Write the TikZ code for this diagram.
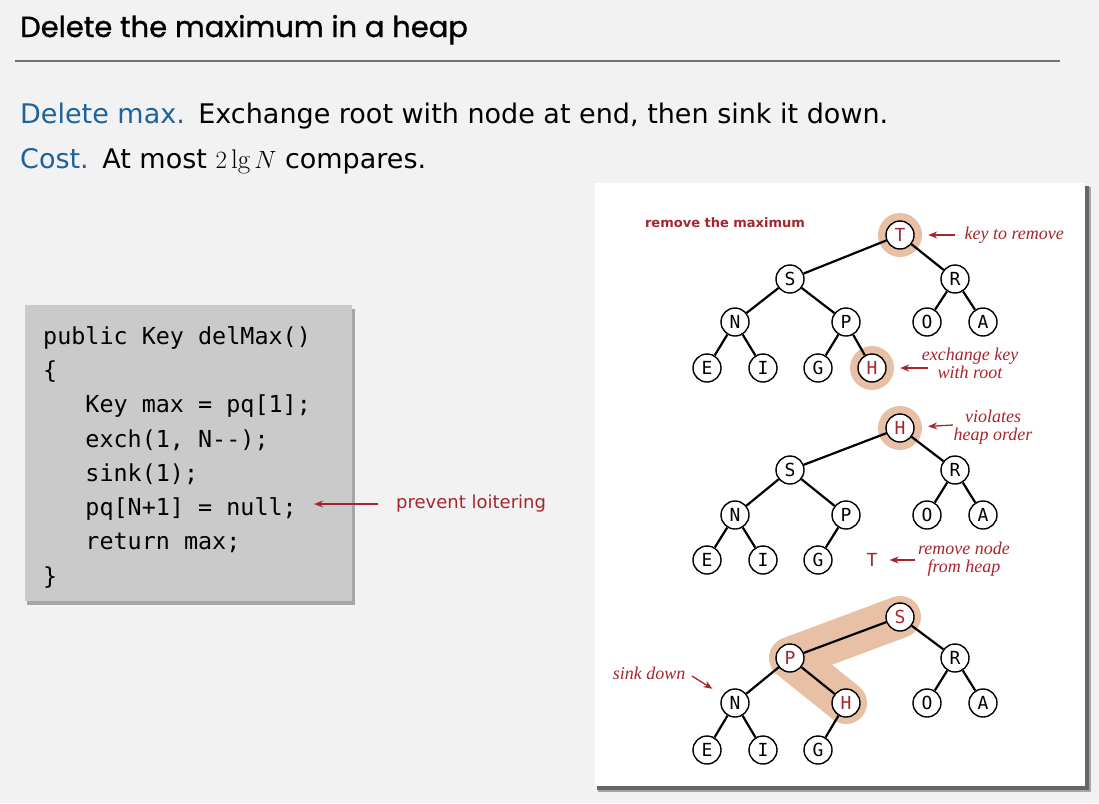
\documentclass[tikz,border=0pt]{standalone}
\usepackage{fontspec}
\usepackage{tikz}
\usepackage{xcolor}
\usetikzlibrary{arrows.meta}
\newfontfamily\titlefont[FakeBold=1]{Poppins}
\newfontfamily\bodyfont{DejaVu Sans}
\newfontfamily\codefont{DejaVu Sans Mono}
\newfontfamily\notefont{Liberation Serif}
\definecolor{pagebg}{RGB}{242,242,242}
\definecolor{hblue}{RGB}{28,98,158}
\definecolor{hred}{RGB}{166,38,46}
\definecolor{peach}{RGB}{232,192,165}
\definecolor{codebg}{RGB}{202,202,202}
\pgfdeclarelayer{back}\pgfdeclarelayer{band}
\pgfsetlayers{back,band,main}

\begin{document}
\begin{tikzpicture}[x=1pt,y=-1pt,
  hnode/.style={circle,draw,line width=1.4pt,fill=white,minimum size=28pt,inner sep=0pt,font=\codefont\fontsize{18}{18}\selectfont},
  hot/.style={text=hred},
  halo/.style={circle,fill=peach,minimum size=44pt,inner sep=0pt},
  link/.style={line width=2.2pt},
  note/.style={text=hred,font=\notefont\itshape\fontsize{18}{18}\selectfont,align=center},
  pointer/.style={hred,line width=1.3pt,-{Stealth[length=9pt,width=7pt]}}]
  \useasboundingbox (0,0) rectangle (1099,803);
  \begin{pgfonlayer}{back}
    \fill[pagebg] (0,0) rectangle (1099,803);
    \fill[black!35] (27,309) rectangle (355,605); \fill[codebg] (25,305) rectangle (352,601);
    \fill[black!35] (598,187) rectangle (1091,792); \fill[black!60] (597,186) rectangle (1089,790); \fill[white] (595,183) rectangle (1085,786);
  \end{pgfonlayer}
  \node[anchor=base west,inner sep=0pt,font=\titlefont\fontsize{29}{32}\selectfont] (title) at (20,37) {Delete the maximum in a heap};
  \draw[black!55,line width=1.5pt] (15,61) -- (1060,61);
  \node[anchor=base west,inner sep=0pt,font=\bodyfont\fontsize{27}{30}\selectfont] (rule) at (20,123) {\textcolor{hblue}{Delete max.}\hspace{0.5em}Exchange root with node at end, then sink it down.};
  \node[anchor=base west,inner sep=0pt,font=\bodyfont\fontsize{27}{30}\selectfont] (cost) at (20,168) {\textcolor{hblue}{Cost.}\hspace{0.5em}At most $2\lg N$ compares.};

  \node[anchor=north west,inner sep=0pt,align=left,font=\codefont\fontsize{23.4}{34.3}\selectfont] (code) at (43,326) {public Key delMax()\\ \{\\ \phantom{123}Key max = pq[1];\\ \phantom{123}exch(1, N-{}-);\\ \phantom{123}sink(1);\\ \phantom{123}pq[N+1] = null;\\ \phantom{123}return max;\\ \}};
  \node[anchor=west,inner sep=0pt,text=hred,font=\bodyfont\fontsize{18}{20}\selectfont] (loiter) at (396,504) {prevent loitering};
  \coordinate (loitTail) at (378,504); \draw[pointer] (loitTail) -- ([xshift=3pt]loitTail -| code.east);

  \node[anchor=center,text=hred,font=\bodyfont\bfseries\fontsize{13}{14}\selectfont] (remmax) at (725,223) {remove the maximum};
  \node[halo] (aTglow) at (900,235) {}; \node[halo] (aHglow) at (872,368) {};
  \node[hnode,hot] (aT) at (900,235) {T}; \node[hnode] (aS) at (790,279) {S}; \node[hnode] (aR) at (955,279) {R};
  \node[hnode] (aN) at (735,322) {N}; \node[hnode] (aP) at (846,322) {P}; \node[hnode] (aO) at (927,322) {O}; \node[hnode] (aA) at (983,322) {A};
  \node[hnode] (aE) at (707,368) {E}; \node[hnode] (aI) at (763,368) {I}; \node[hnode] (aG) at (818,368) {G}; \node[hnode,hot] (aH) at (872,368) {H};
  \draw[link] (aT) -- (aS) (aT) -- (aR) (aS) -- (aN) (aS) -- (aP) (aR) -- (aO) (aR) -- (aA) (aN) -- (aE) (aN) -- (aI) (aP) -- (aG) (aP) -- (aH);
  \node[note,anchor=west] (keyTxt) at (961,235) {key to remove}; \coordinate (keyTail) at (955,235); \draw[pointer,shorten >=6pt] (keyTail) -- (aTglow);
  \node[note] (xchTxt) at (970,363) {exchange key\\with root}; \coordinate (xchTail) at (928,368); \draw[pointer,shorten >=6pt] (xchTail) -- (aHglow);

  \node[halo] (bHglow) at (900,428) {};
  \node[hnode,hot] (bH) at (900,428) {H}; \node[hnode] (bS) at (790,470) {S}; \node[hnode] (bR) at (955,470) {R};
  \node[hnode] (bN) at (735,515) {N}; \node[hnode] (bP) at (846,515) {P}; \node[hnode] (bO) at (927,515) {O}; \node[hnode] (bA) at (983,515) {A};
  \node[hnode] (bE) at (707,560) {E}; \node[hnode] (bI) at (763,560) {I}; \node[hnode] (bG) at (818,560) {G}; \node[hot,inner sep=0pt,font=\codefont\fontsize{18}{18}\selectfont] (bT) at (872,560) {T};
  \draw[link] (bH) -- (bS) (bH) -- (bR) (bS) -- (bN) (bS) -- (bP) (bR) -- (bO) (bR) -- (bA) (bN) -- (bE) (bN) -- (bI) (bP) -- (bG);
  \node[note] (violTxt) at (993,427) {violates\\heap order}; \coordinate (violTail) at (953,425); \draw[pointer,shorten >=6pt] (violTail) -- (bHglow);
  \node[note] (remTxt) at (964,559) {remove node\\from heap}; \coordinate (remTail) at (915,560); \draw[pointer,shorten >=12pt] (remTail) -- (bT);

  \node[hnode,hot] (cS) at (900,617) {S}; \node[hnode,hot] (cP) at (790,658) {P}; \node[hnode] (cR) at (955,658) {R};
  \node[hnode] (cN) at (735,703) {N}; \node[hnode,hot] (cH) at (846,703) {H}; \node[hnode] (cO) at (927,703) {O}; \node[hnode] (cA) at (983,703) {A};
  \node[hnode] (cE) at (707,750) {E}; \node[hnode] (cI) at (763,750) {I}; \node[hnode] (cG) at (818,750) {G};
  \begin{pgfonlayer}{band}
    \draw[peach,line width=42pt,line cap=round,line join=round] (cS.center) -- (cP.center) -- (cH.center);
  \end{pgfonlayer}
  \draw[link] (cS) -- (cP) (cS) -- (cR) (cP) -- (cN) (cP) -- (cH) (cR) -- (cO) (cR) -- (cA) (cN) -- (cE) (cN) -- (cI) (cH) -- (cG);
  \node[note] (sinkTxt) at (649,673) {sink down}; \coordinate (sinkTail) at (692,676); \draw[pointer,shorten >=12pt] (sinkTail) -- (cN);
\end{tikzpicture}
\end{document}
